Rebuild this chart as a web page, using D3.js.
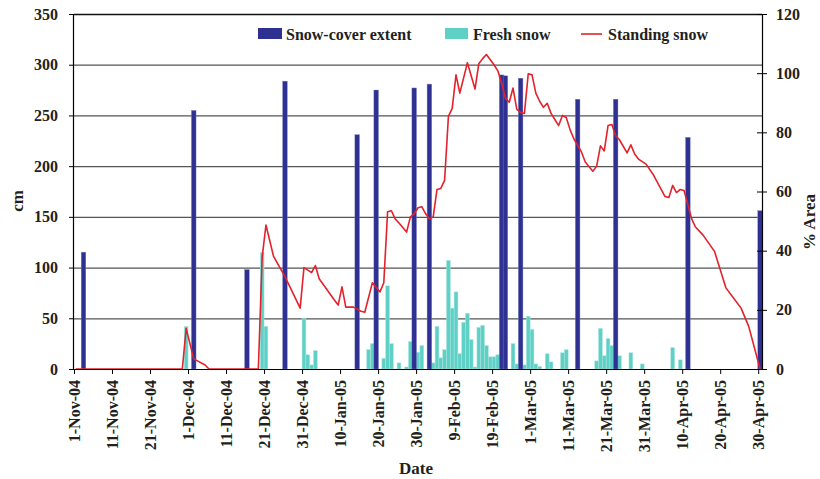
<!DOCTYPE html>
<html><head><meta charset="utf-8">
<script src="https://cdn.jsdelivr.net/npm/d3@7"></script>
<style>body{margin:0;background:#fff}svg{display:block}text{font-family:"Liberation Serif","Times New Roman",serif;font-weight:bold;fill:#231f20}</style>
</head><body><svg id="c" width="820" height="479"></svg>
<script>
const coverDates = ["2004-11-03","2004-12-02","2004-12-16","2004-12-26","2005-01-14","2005-01-19","2005-01-29","2005-02-02","2005-02-21","2005-02-22","2005-02-26","2005-03-13","2005-03-23","2005-04-11","2005-04-30"];
const coverPct = [39.5,87.4,33.6,97.3,79.2,94.3,95.0,96.3,99.4,99.1,98.3,91.2,91.2,78.3,53.5];

const freshDates = ["2004-11-30","2004-12-20","2004-12-21","2004-12-31","2005-01-01","2005-01-02","2005-01-03","2005-01-17","2005-01-18","2005-01-21","2005-01-22","2005-01-23","2005-01-25","2005-01-27","2005-01-28","2005-01-29","2005-01-30","2005-01-31","2005-02-03","2005-02-04","2005-02-05","2005-02-06","2005-02-07","2005-02-08","2005-02-09","2005-02-10","2005-02-11","2005-02-12","2005-02-13","2005-02-14","2005-02-15","2005-02-16","2005-02-17","2005-02-18","2005-02-19","2005-02-20","2005-02-24","2005-02-25","2005-02-27","2005-02-28","2005-03-01","2005-03-02","2005-03-03","2005-03-05","2005-03-06","2005-03-09","2005-03-10","2005-03-18","2005-03-19","2005-03-20","2005-03-21","2005-03-22","2005-03-23","2005-03-24","2005-03-27","2005-03-30","2005-04-07","2005-04-09"];
const freshCm = [42,115,42,50,14,4,18,19,25,10.5,82,25,6,2,27,12,16.5,23,6,42,11,19,107,60,76,15,46,55,29,2,41,43,23,12,12,14,25,5,4,52,39,5,2.5,15,7,16,19,8,40,13,30,23,17,13,16,5,21,9];

const standingDates = ["2004-11-01","2004-11-29","2004-11-30","2004-12-02","2004-12-05","2004-12-06","2004-12-19","2004-12-20","2004-12-21","2004-12-23","2004-12-26","2004-12-30","2004-12-31","2005-01-02","2005-01-03","2005-01-04","2005-01-08","2005-01-09","2005-01-10","2005-01-11","2005-01-13","2005-01-15","2005-01-16","2005-01-18","2005-01-20","2005-01-21","2005-01-22","2005-01-23","2005-01-24","2005-01-25","2005-01-27","2005-01-28","2005-01-29","2005-01-30","2005-01-31","2005-02-01","2005-02-02","2005-02-03","2005-02-04","2005-02-05","2005-02-06","2005-02-07","2005-02-08","2005-02-09","2005-02-10","2005-02-12","2005-02-14","2005-02-15","2005-02-16","2005-02-17","2005-02-19","2005-02-20","2005-02-21","2005-02-22","2005-02-23","2005-02-24","2005-02-25","2005-02-26","2005-02-27","2005-02-28","2005-03-01","2005-03-02","2005-03-03","2005-03-04","2005-03-05","2005-03-06","2005-03-07","2005-03-08","2005-03-09","2005-03-10","2005-03-11","2005-03-12","2005-03-14","2005-03-15","2005-03-17","2005-03-18","2005-03-19","2005-03-20","2005-03-21","2005-03-22","2005-03-23","2005-03-24","2005-03-26","2005-03-27","2005-03-28","2005-03-29","2005-03-31","2005-04-02","2005-04-05","2005-04-06","2005-04-07","2005-04-08","2005-04-09","2005-04-10","2005-04-12","2005-04-13","2005-04-15","2005-04-18","2005-04-21","2005-04-23","2005-04-25","2005-04-27","2005-04-30"];
const standingCm = [0,0,40,10,4,0,0,110,142,111,91,60,100,95,102,89,68,63,81,61,61,57,56,85,76,85,155,156,148,144,135,150,153,159,160,153,148,150,177,178,186,249,257,290,272,302,276,301,306,310,300,294,282,267,263,277,256,253,252,291,290,272,264,258,262,252,246,240,250,248,236,227,214,204,195,200,220,215,240,241,230,226,213,221,212,207,202,191,170,169,181,174,177,176,148,140,132,116,80,70,60,42,0];

const xTickDates = ["2004-11-01","2004-11-11","2004-11-21","2004-12-01","2004-12-11","2004-12-21","2004-12-31","2005-01-10","2005-01-20","2005-01-30","2005-02-09","2005-02-19","2005-03-01","2005-03-11","2005-03-21","2005-03-31","2005-04-10","2005-04-20","2005-04-30"];
const leftTicks = [0,50,100,150,200,250,300,350];
const rightTicks = [0,20,40,60,80,100,120];
const legendLabels = ["Snow-cover extent","Fresh snow","Standing snow"];

const parse = d3.utcParse("%Y-%m-%d");
const fmt = d3.utcFormat("%-d-%b-%y");
const svg = d3.select("#c");
const L=74, R=762, T=14, B=369;
const x = d3.scaleUtc().domain([parse("2004-11-01"), parse("2005-05-01")]).range([L,R]);
const yL = d3.scaleLinear().domain([0,350]).range([B,T]);
const yR = d3.scaleLinear().domain([0,120]).range([B,T]);
const day = (x(parse("2004-11-02"))-x(parse("2004-11-01")));
const mid = s => x(d3.utcHour.offset(parse(s),12));

const BLUE="#2e3192", CYAN="#5fd0c6", RED="#e3222b";

// gridlines
svg.append("g").selectAll("line").data(leftTicks.filter(v=>v>0)).join("line")
  .attr("x1",L).attr("x2",R).attr("y1",d=>yL(d)+0.5).attr("y2",d=>yL(d)+0.5)
  .attr("stroke",d=>d===350?"#111":"#555").attr("stroke-width",1.3);

// fresh snow bars
svg.append("g").selectAll("rect").data(freshDates.map((d,i)=>({d,v:freshCm[i]}))).join("rect")
  .attr("x",d=>mid(d.d)-day/2).attr("width",day)
  .attr("y",d=>yL(d.v)).attr("height",d=>B-yL(d.v))
  .attr("fill",CYAN).attr("stroke","#a8e6e0").attr("stroke-width",0.5);

// cover bars
svg.append("g").selectAll("rect").data(coverDates.map((d,i)=>({d,v:coverPct[i]}))).join("rect")
  .attr("x",d=>mid(d.d)-2.3).attr("width",4.6)
  .attr("y",d=>yR(d.v)).attr("height",d=>B-yR(d.v))
  .attr("fill",BLUE).attr("stroke","#7c80c0").attr("stroke-width",0.4);

// standing snow line
const line = d3.line().x(d=>mid(d.d)).y(d=>yL(d.v));
svg.append("path").datum(standingDates.map((d,i)=>({d,v:standingCm[i]})))
  .attr("d",line).attr("fill","none").attr("stroke",RED).attr("stroke-width",1.6).attr("stroke-linejoin","round");

// axes
const axL = svg.append("g").attr("transform",`translate(${L},0)`)
  .call(d3.axisLeft(yL).tickValues(leftTicks).tickSize(5).tickPadding(11));
const axR = svg.append("g").attr("transform",`translate(${R},0)`)
  .call(d3.axisRight(yR).tickValues(rightTicks).tickSize(5).tickPadding(9));
axR.selectAll(".tick line").attr("x1",-5);
const axB = svg.append("g").attr("transform",`translate(0,${B})`)
  .call(d3.axisBottom(x).tickValues(xTickDates.map(parse)).tickFormat(fmt).tickSize(5));
[axL,axR,axB].forEach(a=>{
  a.select(".domain").attr("stroke","#000").attr("stroke-width",1.2);
  a.selectAll(".tick line").attr("stroke","#000");
  a.selectAll("text").style("font-size","16px").style("font-family",'"Liberation Serif",serif').style("font-weight","bold").attr("fill","#231f20");
});
axL.select(".domain").attr("d",`M-0.5,${T}V${B}`);
axR.select(".domain").attr("d",`M0.5,${T}V${B}`);
axB.select(".domain").attr("d",`M${L},0.5H${R}`);
axB.selectAll("text").attr("transform","rotate(-90)").attr("text-anchor","end")
  .attr("x",-11).attr("y",0).attr("dy","0.33em").style("font-size","16px");

// titles
svg.append("text").attr("x",416).attr("y",474).attr("text-anchor","middle").style("font-size","17px").text("Date");
svg.append("text").attr("transform","translate(23,201) rotate(-90)").attr("text-anchor","middle").style("font-size","17px").text("cm");
svg.append("text").attr("transform","translate(815,222) rotate(-90)").attr("text-anchor","middle").style("font-size","17px").text("% Area");

// legend
const lg = svg.append("g").style("font-size","16px");
lg.append("rect").attr("x",258).attr("y",28).attr("width",24).attr("height",11).attr("fill",BLUE);
lg.append("text").attr("x",286).attr("y",39.5).text(legendLabels[0]);
lg.append("rect").attr("x",445).attr("y",28).attr("width",23).attr("height",11).attr("fill",CYAN);
lg.append("text").attr("x",473).attr("y",39.5).text(legendLabels[1]);
lg.append("line").attr("x1",581).attr("x2",602).attr("y1",34).attr("y2",34).attr("stroke",RED).attr("stroke-width",1.6);
lg.append("text").attr("x",608).attr("y",39.5).text(legendLabels[2]);
</script></body></html>
